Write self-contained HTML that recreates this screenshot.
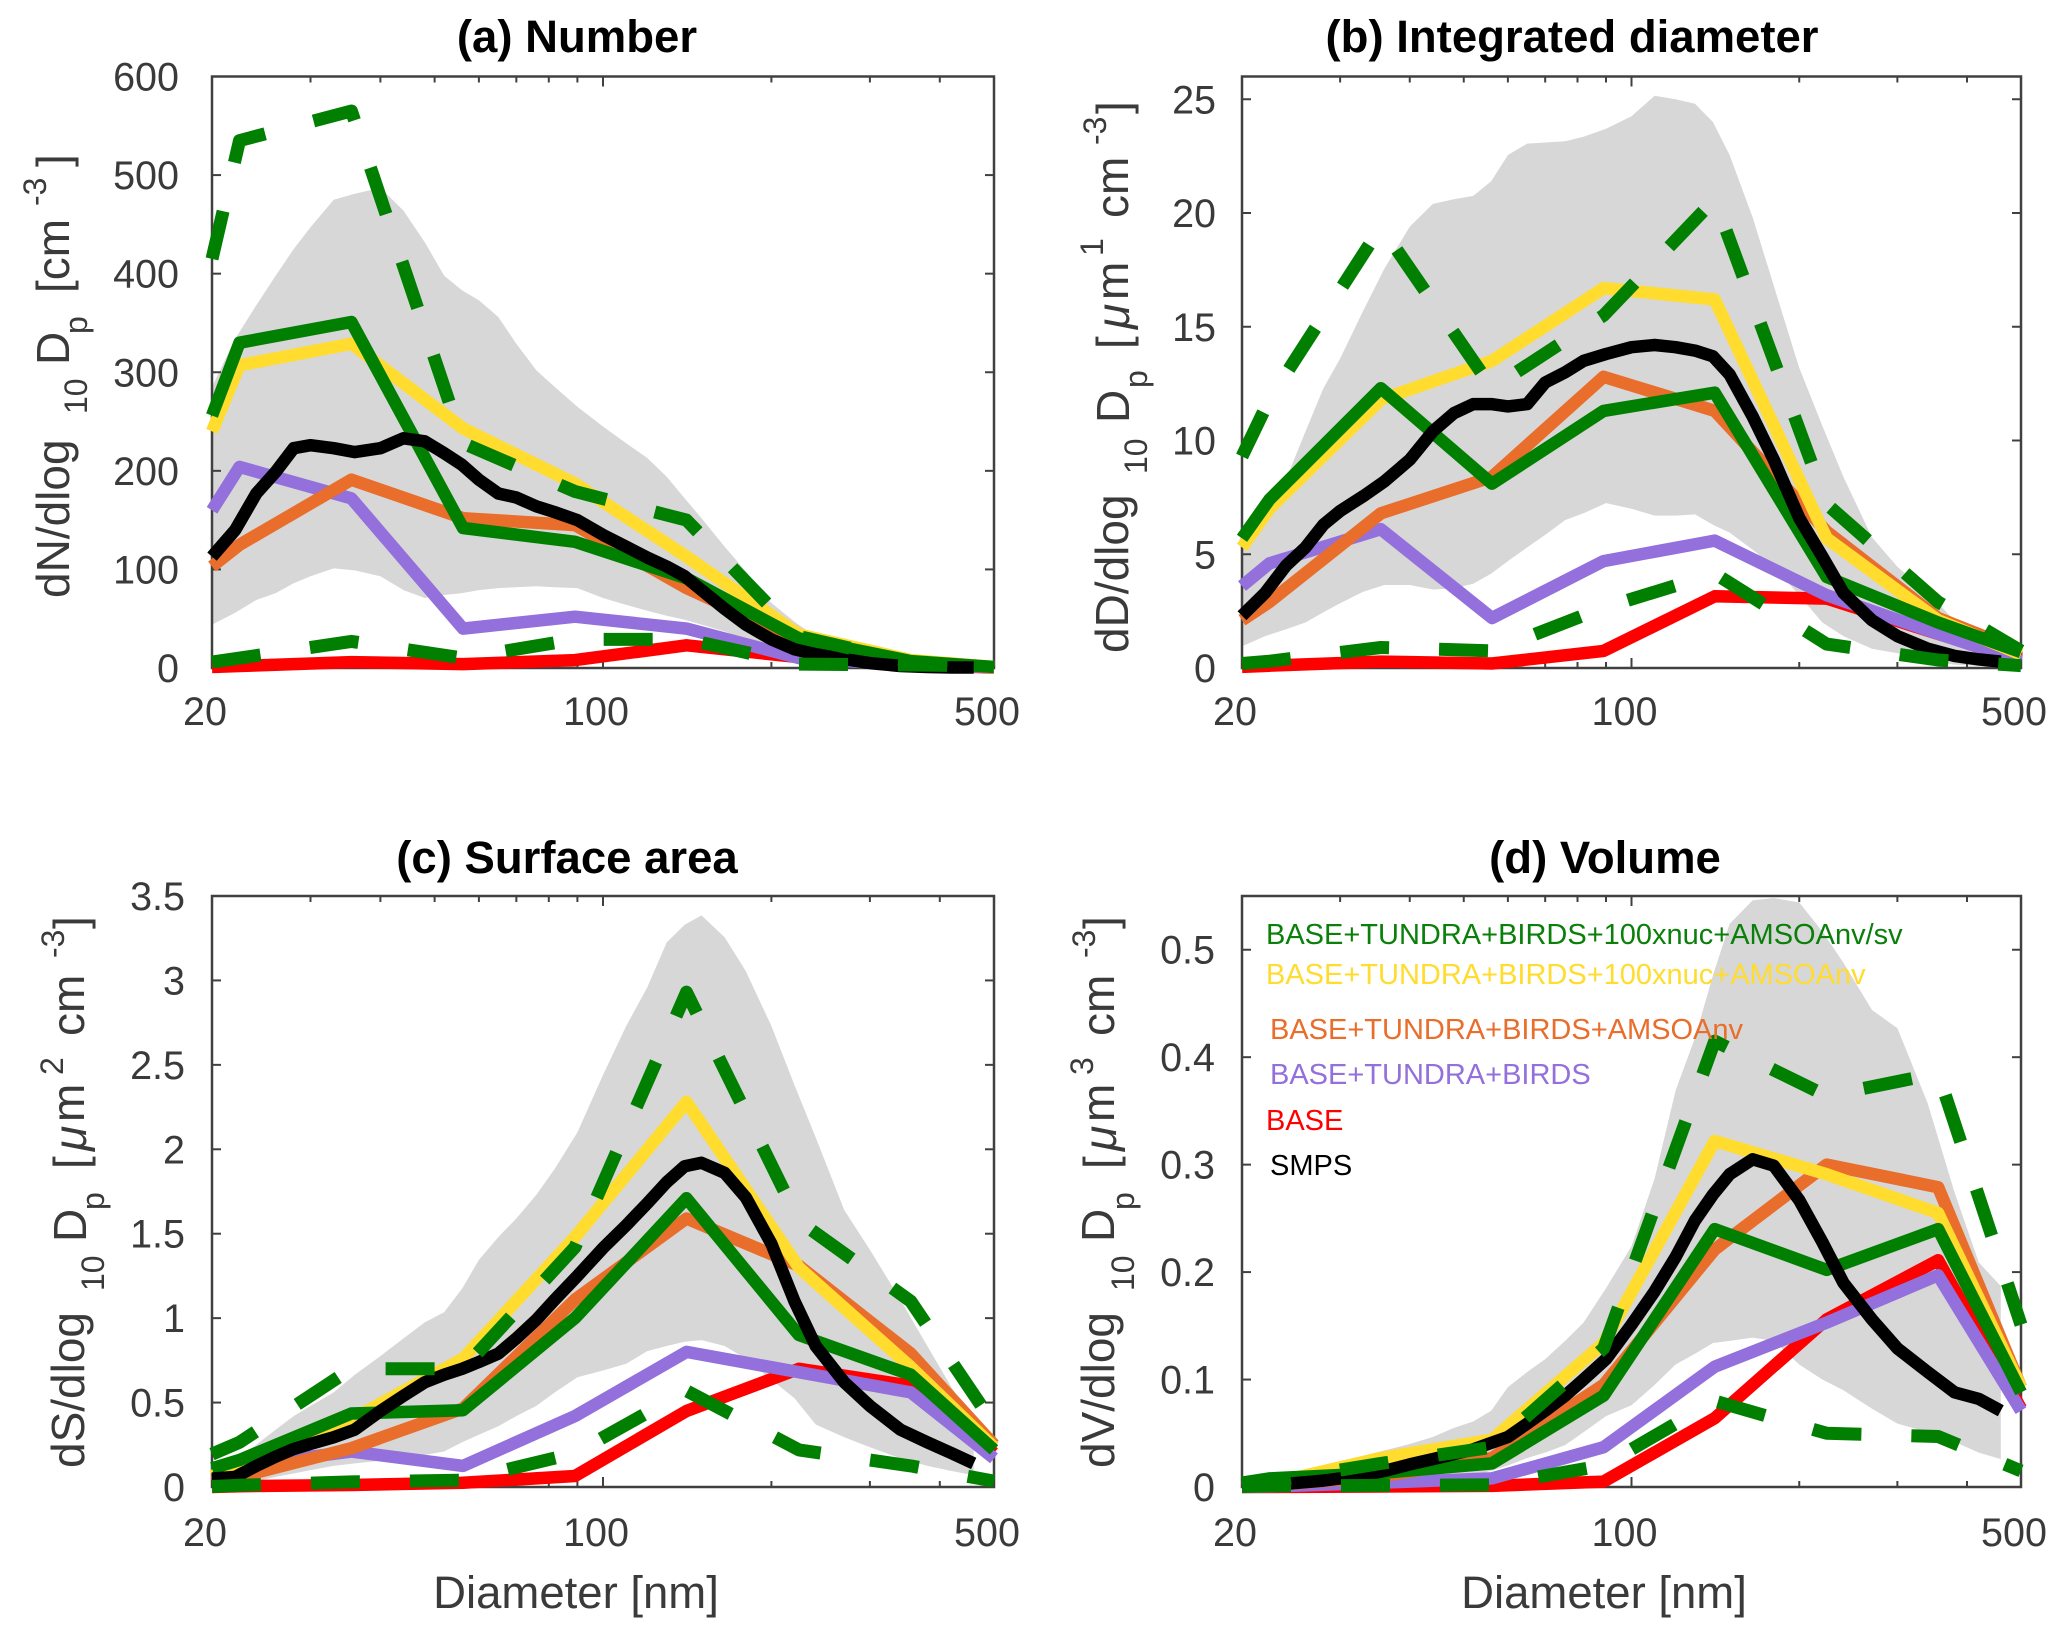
<!DOCTYPE html>
<html lang="en">
<head>
<meta charset="utf-8">
<title>Aerosol size distributions</title>
<style>
html,body{margin:0;padding:0;background:#fff;}
svg{display:block;font-family:"Liberation Sans",Arial,sans-serif;}
.tl{font-size:39.5px;fill:#3a3a3a;}
.yl{font-size:46px;fill:#3a3a3a;}
.ys{font-size:32px;fill:#3a3a3a;}
.ttl{font-size:45.5px;font-weight:bold;fill:#000;text-anchor:middle;}
.xt{font-size:45.5px;fill:#3a3a3a;text-anchor:middle;}
.lg{font-size:29px;}
</style>
</head>
<body>
<svg id="fig" xmlns="http://www.w3.org/2000/svg" width="2067" height="1638" viewBox="0 0 2067 1638">
<rect width="2067" height="1638" fill="#fff"/>
<g id="plots"></g>

<text class="ttl" x="577" y="52">(a) Number</text>
<text class="ttl" x="1572" y="52">(b) Integrated diameter</text>
<text class="ttl" x="567" y="873">(c) Surface area</text>
<text class="ttl" x="1605" y="873">(d) Volume</text>

<text class="xt" x="576" y="1608">Diameter [nm]</text>
<text class="xt" x="1604" y="1608">Diameter [nm]</text>

<g>
<text class="yl" transform="translate(69 598) rotate(-90)">dN/dlog</text>
<text class="ys" transform="translate(87 414) rotate(-90)">10</text>
<text class="yl" transform="translate(69 365) rotate(-90)">D</text>
<text class="ys" transform="translate(87 334) rotate(-90)">p</text>
<text class="yl" transform="translate(69 293) rotate(-90)">[cm</text>
<text class="ys" transform="translate(46 206) rotate(-90)">-3</text>
<text class="yl" transform="translate(69 167) rotate(-90)">]</text>
</g>
<g>
<text class="yl" transform="translate(1128 653) rotate(-90)">dD/dlog</text>
<text class="ys" transform="translate(1147 474) rotate(-90)">10</text>
<text class="yl" transform="translate(1129 423) rotate(-90)">D</text>
<text class="ys" transform="translate(1147 388) rotate(-90)">p</text>
<text class="yl" transform="translate(1129 349) rotate(-90)">[</text>
<text class="yl" font-style="italic" transform="translate(1129 329) rotate(-90)">μ</text>
<text class="yl" transform="translate(1128 300) rotate(-90)">m</text>
<text class="ys" transform="translate(1103 256) rotate(-90)">1</text>
<text class="yl" transform="translate(1128 218) rotate(-90)">cm</text>
<text class="ys" transform="translate(1106 145) rotate(-90)">-3</text>
<text class="yl" transform="translate(1129 114) rotate(-90)">]</text>
</g>
<g>
<text class="yl" transform="translate(84 1468) rotate(-90)">dS/dlog</text>
<text class="ys" transform="translate(104 1291) rotate(-90)">10</text>
<text class="yl" transform="translate(86 1242) rotate(-90)">D</text>
<text class="ys" transform="translate(104 1210) rotate(-90)">p</text>
<text class="yl" transform="translate(86 1169) rotate(-90)">[</text>
<text class="yl" font-style="italic" transform="translate(86 1151) rotate(-90)">μ</text>
<text class="yl" transform="translate(84 1122) rotate(-90)">m</text>
<text class="ys" transform="translate(63 1075) rotate(-90)">2</text>
<text class="yl" transform="translate(84 1036) rotate(-90)">cm</text>
<text class="ys" transform="translate(64 958) rotate(-90)">-3</text>
<text class="yl" transform="translate(86 929) rotate(-90)">]</text>
</g>
<g>
<text class="yl" transform="translate(1114 1468) rotate(-90)">dV/dlog</text>
<text class="ys" transform="translate(1134 1291) rotate(-90)">10</text>
<text class="yl" transform="translate(1114 1242) rotate(-90)">D</text>
<text class="ys" transform="translate(1134 1210) rotate(-90)">p</text>
<text class="yl" transform="translate(1116 1169) rotate(-90)">[</text>
<text class="yl" font-style="italic" transform="translate(1116 1151) rotate(-90)">μ</text>
<text class="yl" transform="translate(1114 1122) rotate(-90)">m</text>
<text class="ys" transform="translate(1093 1075) rotate(-90)">3</text>
<text class="yl" transform="translate(1114 1036) rotate(-90)">cm</text>
<text class="ys" transform="translate(1095 958) rotate(-90)">-3</text>
<text class="yl" transform="translate(1116 929) rotate(-90)">]</text>
</g>

<g>
<text class="lg" x="1266" y="944" fill="#0a800a">BASE+TUNDRA+BIRDS+100xnuc+AMSOAnv/sv</text>
<text class="lg" x="1266" y="984" fill="#ffdc2e">BASE+TUNDRA+BIRDS+100xnuc+AMSOAnv</text>
<text class="lg" x="1270" y="1039" fill="#e96d2b">BASE+TUNDRA+BIRDS+AMSOAnv</text>
<text class="lg" x="1270" y="1084" fill="#9370db">BASE+TUNDRA+BIRDS</text>
<text class="lg" x="1266" y="1130" fill="#ff0000">BASE</text>
<text class="lg" x="1270" y="1175" fill="#000">SMPS</text>
</g>
</svg>

<script>
// Shared x values (diameter, nm)
const modelD = [20, 22.4, 35.5, 56.2, 89.1, 141, 224, 355, 500];
const smpsD = [20, 22, 24, 26, 28, 30, 33, 36, 40, 44, 48, 52, 56, 60, 65, 70, 76, 82, 90, 100, 110, 120, 130, 140, 150, 165, 180, 200, 220, 240, 270, 300, 340, 380, 420, 460];
const xMajorTicks = [20, 100, 500];
const xMinorTicks = [30, 40, 50, 60, 70, 80, 90, 200, 300, 400];

// Panel (a) Number
const aYTicks = [0, 100, 200, 300, 400, 500, 600];
const aYTickLabels = ['0', '100', '200', '300', '400', '500', '600'];
const aRed = [1, 2, 6, 4, 8, 23, 11, 3, 0.5];
const aPurple = [160, 204, 172, 40, 52, 40, 10, 3, 1];
const aOrange = [103, 125, 191, 152, 145, 81, 29, 6, 1];
const aYellow = [240, 307, 329, 243, 187, 113, 34, 8, 1];
const aGreen = [256, 330, 351, 142, 128, 91, 30, 7, 1];
const aDashHigh = [415, 535, 565, 228, 179, 150, 32, 6, 1];
const aDashLow = [6, 10, 27, 10, 29, 29, 4, 3, 2];
const aSmps = [113, 140, 177, 199, 223, 226, 223, 219, 223, 233, 230, 218, 206, 191, 177, 173, 164, 158, 150, 135, 123, 112, 103, 93, 79, 60, 44, 29, 19, 14, 9, 5, 2, 1, 0.5, 0.5];
const aBandUpper = [285, 334, 368, 398, 425, 447, 475, 481, 487, 464, 432, 398, 383, 373, 356, 329, 302, 285, 265, 245, 228, 213, 194, 172, 152, 123, 98, 66, 47, 32, 20, 12, 7, 4, 2, 1];
const aBandLower = [44, 56, 69, 76, 86, 93, 101, 99, 93, 79, 71, 74, 76, 79, 81, 82, 83, 82, 81, 71, 64, 58, 53, 49, 44, 37, 29, 17, 10, 7, 4, 2, 1.5, 1, 0.5, 0.2];

// Panel (b) Integrated diameter
const bYTicks = [0, 5, 10, 15, 20, 25];
const bYTickLabels = ['0', '5', '10', '15', '20', '25'];
const bRed = [0.05, 0.1, 0.28, 0.2, 0.75, 3.15, 3.05, 1.5, 0.4];
const bPurple = [3.6, 4.6, 6.1, 2.2, 4.7, 5.6, 3.2, 1.5, 0.3];
const bOrange = [2.1, 2.9, 6.8, 8.4, 12.8, 11.3, 6, 2.2, 0.75];
const bYellow = [5.3, 7, 11.8, 13.5, 16.7, 16.2, 5.7, 2.1, 0.6];
const bGreen = [5.7, 7.4, 12.3, 8.1, 11.3, 12.1, 4, 2, 0.7];
const bDashHigh = [9.3, 11.8, 19.4, 12.3, 15.5, 20.6, 7.2, 2.9, 0.75];
const bDashLow = [0.2, 0.3, 0.9, 0.75, 2.65, 4.15, 1.05, 0.35, 0.1];
const bSmps = [2.3, 3.3, 4.5, 5.3, 6.3, 6.9, 7.55, 8.2, 9.15, 10.4, 11.2, 11.6, 11.6, 11.5, 11.6, 12.55, 13, 13.5, 13.8, 14.1, 14.2, 14.1, 13.95, 13.7, 12.9, 11.05, 9.15, 6.6, 4.9, 3.3, 2.1, 1.4, 0.85, 0.53, 0.38, 0.28];
const bBandUpper = [5.3, 7.2, 8.3, 10.4, 12.3, 13.6, 15.7, 17.55, 19.4, 20.4, 20.6, 20.75, 21.4, 22.55, 23.05, 23.1, 23.15, 23.35, 23.7, 24.25, 25.15, 25, 24.8, 24, 22.55, 19.8, 16.8, 13.2, 10.65, 8.4, 5.75, 4.45, 3.3, 2.1, 1.05, 0.4];
const bBandLower = [0.95, 1.4, 1.7, 2, 2.45, 2.85, 3.35, 3.65, 3.65, 3.45, 3.5, 3.7, 4.15, 4.7, 5.3, 5.85, 6.5, 6.8, 7.25, 7, 6.7, 6.7, 6.75, 6.3, 5.95, 5.2, 4.45, 3.2, 2, 1.4, 0.85, 0.65, 0.3, 0.15, 0.1, 0.05];

// Panel (c) Surface area
const cYTicks = [0, 0.5, 1, 1.5, 2, 2.5, 3, 3.5];
const cYTickLabels = ['0', '0.5', '1', '1.5', '2', '2.5', '3', '3.5'];
const cRed = [0, 0.005, 0.012, 0.025, 0.065, 0.45, 0.7, 0.6, 0.2];
const cPurple = [0.1, 0.125, 0.21, 0.125, 0.42, 0.8, 0.68, 0.56, 0.17];
const cOrange = [0.03, 0.06, 0.23, 0.465, 1.11, 1.59, 1.31, 0.79, 0.25];
const cYellow = [0.065, 0.13, 0.4, 0.76, 1.48, 2.28, 1.3, 0.71, 0.235];
const cGreen = [0.11, 0.16, 0.435, 0.455, 1, 1.71, 0.9, 0.665, 0.22];
const cDashHigh = [0.195, 0.265, 0.7, 0.7, 1.42, 2.93, 1.575, 1.1, 0.37];
const cDashLow = [0.003, 0.01, 0.03, 0.04, 0.2, 0.57, 0.22, 0.125, 0.035];
const cSmps = [0.05, 0.06, 0.125, 0.18, 0.225, 0.255, 0.295, 0.34, 0.45, 0.54, 0.62, 0.665, 0.7, 0.74, 0.79, 0.88, 0.99, 1.11, 1.25, 1.415, 1.55, 1.68, 1.805, 1.9, 1.92, 1.86, 1.715, 1.44, 1.1, 0.835, 0.62, 0.48, 0.34, 0.265, 0.2, 0.14];
const cBandUpper = [0.065, 0.155, 0.25, 0.34, 0.42, 0.48, 0.56, 0.665, 0.775, 0.88, 0.975, 1.035, 1.175, 1.345, 1.48, 1.59, 1.73, 1.885, 2.1, 2.44, 2.73, 2.96, 3.225, 3.33, 3.385, 3.255, 3.055, 2.73, 2.38, 2.07, 1.64, 1.405, 1.11, 0.835, 0.59, 0.39];
const cBandLower = [0.01, 0.02, 0.035, 0.06, 0.08, 0.1, 0.125, 0.14, 0.155, 0.17, 0.19, 0.21, 0.265, 0.31, 0.36, 0.42, 0.48, 0.56, 0.65, 0.69, 0.73, 0.805, 0.835, 0.86, 0.87, 0.835, 0.76, 0.635, 0.525, 0.37, 0.295, 0.235, 0.17, 0.125, 0.095, 0.07];

// Panel (d) Volume
const dYTicks = [0, 0.1, 0.2, 0.3, 0.4, 0.5];
const dYTickLabels = ['0', '0.1', '0.2', '0.3', '0.4', '0.5'];
const dRed = [0, 0, 0.0005, 0.001, 0.005, 0.064, 0.156, 0.211, 0.073];
const dPurple = [0, 0.0005, 0.004, 0.008, 0.037, 0.112, 0.153, 0.197, 0.071];
const dOrange = [0.0005, 0.0015, 0.01, 0.027, 0.095, 0.221, 0.3, 0.279, 0.093];
const dYellow = [0.0015, 0.003, 0.027, 0.044, 0.134, 0.322, 0.291, 0.255, 0.093];
const dGreen = [0.004, 0.008, 0.013, 0.022, 0.085, 0.24, 0.202, 0.24, 0.088];
const dDashHigh = [0.004, 0.005, 0.022, 0.037, 0.129, 0.415, 0.364, 0.385, 0.151];
const dDashLow = [0.0005, 0.001, 0.0015, 0.002, 0.02, 0.08, 0.05, 0.047, 0.015];
const dSmps = [0.0015, 0.002, 0.003, 0.0045, 0.006, 0.008, 0.011, 0.015, 0.021, 0.026, 0.0305, 0.035, 0.041, 0.0465, 0.059, 0.071, 0.085, 0.1, 0.119, 0.151, 0.182, 0.214, 0.248, 0.272, 0.291, 0.305, 0.299, 0.267, 0.228, 0.19, 0.156, 0.129, 0.107, 0.088, 0.082, 0.071];
const dBandUpper = [0.005, 0.008, 0.01, 0.015, 0.019, 0.022, 0.029, 0.034, 0.04, 0.0465, 0.055, 0.061, 0.071, 0.093, 0.107, 0.119, 0.136, 0.153, 0.185, 0.224, 0.287, 0.369, 0.418, 0.476, 0.524, 0.546, 0.548, 0.544, 0.517, 0.488, 0.444, 0.427, 0.357, 0.274, 0.209, 0.187];
const dBandLower = [0.0005, 0.0008, 0.001, 0.0015, 0.002, 0.003, 0.004, 0.005, 0.006, 0.008, 0.009, 0.011, 0.015, 0.02, 0.027, 0.032, 0.039, 0.051, 0.066, 0.076, 0.095, 0.114, 0.124, 0.134, 0.136, 0.139, 0.136, 0.114, 0.1, 0.09, 0.073, 0.059, 0.051, 0.042, 0.032, 0.026];

const NS = 'http://www.w3.org/2000/svg';
const root = document.getElementById('plots');

function make(tag, attrs, parent) {
  const el = document.createElementNS(NS, tag);
  for (const k in attrs) el.setAttribute(k, attrs[k]);
  parent.appendChild(el);
  return el;
}

function drawPanel(p) {
  const g = make('g', {}, root);
  
  
  const sx = d => p.x0 + (p.x1 - p.x0) * Math.log(d / 20) / Math.log(500 / 20);
  const sy = v => p.y0 - (p.y0 - p.y1) * v / p.yMax;

  // uncertainty band
  const up = smpsD.map((d, i) => sx(d).toFixed(1) + ',' + sy(p.bandUpper[i]).toFixed(1));
  const lo = smpsD.map((d, i) => sx(d).toFixed(1) + ',' + sy(p.bandLower[i]).toFixed(1)).reverse();
  const band = make('polygon', { points: up.concat(lo).join(' '), fill: '#d7d7d7' }, g);
  
  

  // frame
  const frame = make('rect', { x: p.x0, y: p.y1, width: p.x1 - p.x0, height: p.y0 - p.y1, fill: 'none', stroke: '#404040', 'stroke-width': 2.5 }, g);
  
  

  // x ticks
  const tick = (x1, y1, x2, y2) => make('line', { x1: x1, y1: y1, x2: x2, y2: y2, stroke: '#404040', 'stroke-width': 2 }, g);
  xMinorTicks.forEach(d => {
    tick(sx(d), p.y0, sx(d), p.y0 - 6);
    tick(sx(d), p.y1, sx(d), p.y1 + 6);
  });
  xMajorTicks.forEach(d => {
    tick(sx(d), p.y0, sx(d), p.y0 - 10);
    tick(sx(d), p.y1, sx(d), p.y1 + 10);
    const t = make('text', { class: 'tl', x: sx(d) - 7, y: p.xLabelY, 'text-anchor': 'middle' }, g);
    t.textContent = String(d);
    
    
  });

  // y ticks
  p.yTicks.forEach((v, i) => {
    tick(p.x0, sy(v), p.x0 + 9, sy(v));
    tick(p.x1, sy(v), p.x1 - 9, sy(v));
    const t = make('text', { class: 'tl', x: p.yLabelX, y: sy(v) + 14, 'text-anchor': 'end' }, g);
    t.textContent = p.yTickLabels[i];
    
    
  });

  // series
  const line = (xs, ys, color, name, dash) => {
    const pts = xs.map((d, i) => sx(d).toFixed(1) + ',' + sy(ys[i]).toFixed(1)).join(' ');
    const attrs = { points: pts, fill: 'none', stroke: color, 'stroke-width': dash ? 13 : 12.5, 'stroke-linejoin': 'round' };
    if (dash) attrs['stroke-dasharray'] = '49 50';
    const el = make('polyline', attrs, g);
    
    
  };
  line(modelD, p.red, '#ff0000', 'series-base');
  line(modelD, p.purple, '#9370db', 'series-tundra-birds');
  line(modelD, p.orange, '#e96d2b', 'series-amsoa-nv');
  line(modelD, p.yellow, '#ffdc2e', 'series-amsoa-nv-nuc');
  line(modelD, p.green, '#007f00', 'series-amsoa-nv-sv');
  line(smpsD, p.smps, '#000000', 'series-smps');
  line(modelD, p.dashHigh, '#007f00', 'series-upper-bound-dashed', true);
  line(modelD, p.dashLow, '#007f00', 'series-lower-bound-dashed', true);
}

drawPanel({ id: 'a-number', x0: 212, x1: 994, y0: 668, y1: 76.5, yMax: 600, xLabelY: 725, yLabelX: 179,
  yTicks: aYTicks, yTickLabels: aYTickLabels, red: aRed, purple: aPurple, orange: aOrange, yellow: aYellow, green: aGreen, dashHigh: aDashHigh, dashLow: aDashLow, smps: aSmps, bandUpper: aBandUpper, bandLower: aBandLower });
drawPanel({ id: 'b-integrated-diameter', x0: 1242, x1: 2021, y0: 668, y1: 76.5, yMax: 26, xLabelY: 725, yLabelX: 1216,
  yTicks: bYTicks, yTickLabels: bYTickLabels, red: bRed, purple: bPurple, orange: bOrange, yellow: bYellow, green: bGreen, dashHigh: bDashHigh, dashLow: bDashLow, smps: bSmps, bandUpper: bBandUpper, bandLower: bBandLower });
drawPanel({ id: 'c-surface-area', x0: 212, x1: 994, y0: 1487, y1: 896, yMax: 3.5, xLabelY: 1546, yLabelX: 185,
  yTicks: cYTicks, yTickLabels: cYTickLabels, red: cRed, purple: cPurple, orange: cOrange, yellow: cYellow, green: cGreen, dashHigh: cDashHigh, dashLow: cDashLow, smps: cSmps, bandUpper: cBandUpper, bandLower: cBandLower });
drawPanel({ id: 'd-volume', x0: 1242, x1: 2021, y0: 1487, y1: 896, yMax: 0.55, xLabelY: 1546, yLabelX: 1215,
  yTicks: dYTicks, yTickLabels: dYTickLabels, red: dRed, purple: dPurple, orange: dOrange, yellow: dYellow, green: dGreen, dashHigh: dDashHigh, dashLow: dDashLow, smps: dSmps, bandUpper: dBandUpper, bandLower: dBandLower });
</script>
</body>
</html>
